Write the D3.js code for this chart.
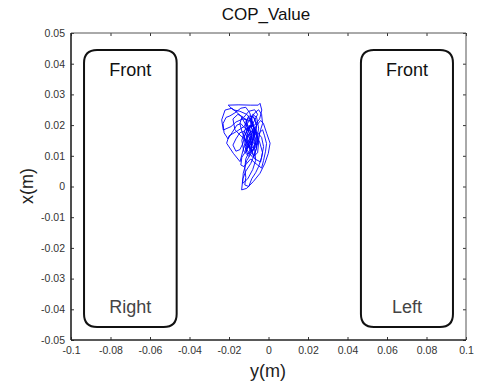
<!DOCTYPE html>
<html><head><meta charset="utf-8">
<script src="https://cdn.jsdelivr.net/npm/d3@7"></script>
<style>body{margin:0;background:#fff}svg{display:block}text{font-family:"Liberation Sans",Arial,sans-serif}</style>
</head><body>
<svg id="c" width="477" height="385"></svg>
<script>
const title = "COP_Value";
const xLabel = "y(m)";
const yLabel = "x(m)";
const xTicks = [-0.1,-0.08,-0.06,-0.04,-0.02,0,0.02,0.04,0.06,0.08,0.1];
const xTickLabels = ["-0.1","-0.08","-0.06","-0.04","-0.02","0","0.02","0.04","0.06","0.08","0.1"];
const yTicks = [-0.05,-0.04,-0.03,-0.02,-0.01,0,0.01,0.02,0.03,0.04,0.05];
const yTickLabels = ["-0.05","-0.04","-0.03","-0.02","-0.01","0","0.01","0.02","0.03","0.04","0.05"];
// foot outlines [yMin, yMax, xMin, xMax] in metres
const rightFoot = [-0.0934, -0.0465, -0.0458, 0.0445];
const leftFoot  = [0.0468, 0.0934, -0.0458, 0.0445];
const footLabels = ["Front","Right","Front","Left"];
// COP trajectory in millimetres [y, x]
const copPath = [
[-10.0,18.0],[-11.5,20.5],[-9.0,22.0],[-7.5,19.0],[-9.5,15.5],[-12.0,13.0],[-10.5,10.5],[-7.0,12.5],[-6.0,16.5],[-8.0,21.0],
[-11.0,23.5],[-14.5,24.5],[-18.0,25.0],[-20.4,26.5],[-15.0,26.6],[-9.0,26.5],[-5.2,26.5],[-4.3,27.1],[-3.4,24.9],[-4.5,22.0],
[-7.0,20.0],[-10.5,19.0],[-12.5,16.0],[-11.0,12.0],[-8.0,9.5],[-5.5,11.0],[-5.0,14.5],[-6.5,18.5],[-9.5,21.5],[-13.0,22.0],
[-16.5,21.0],[-19.0,19.5],[-22.9,18.4],[-23.7,21.7],[-22.0,24.9],[-18.5,25.5],[-14.0,23.0],[-11.0,19.5],[-9.0,16.0],[-8.5,12.0],
[-10.0,9.8],[-12.5,11.5],[-13.5,15.0],[-12.0,18.5],[-8.5,20.0],[-6.0,18.0],[-5.5,14.0],[-7.0,10.5],[-9.0,7.5],[-11.5,5.0],
[-13.0,2.5],[-13.6,-1.1],[-11.0,-0.6],[-7.7,1.6],[-4.3,4.3],[-1.8,7.6],[-0.1,10.8],[0.8,14.1],[-0.9,17.3],[-2.6,20.6],
[-4.0,21.5],[-6.5,19.5],[-8.0,17.0],[-10.0,14.0],[-11.5,11.0],[-10.0,13.5],[-8.5,16.5],[-9.5,19.0],[-11.5,21.0],[-10.0,23.0],
[-7.5,22.5],[-6.0,20.0],[-7.5,16.0],[-9.0,13.0],[-7.5,10.0],[-6.0,12.5],[-6.5,15.5],[-8.0,18.5],[-10.5,16.5],[-12.0,14.0],
[-14.4,8.1],[-17.8,10.8],[-21.2,14.1],[-20.0,16.5],[-16.0,18.0],[-12.5,19.5],[-10.0,21.0],[-8.0,23.5],[-6.0,22.5],[-5.0,19.0],
[-6.0,15.0],[-8.5,11.0],[-11.0,8.5],[-12.8,4.3],[-13.1,1.0],[-10.5,2.5],[-8.0,5.5],[-6.5,8.5],[-7.0,12.0],[-9.0,15.0],
[-11.0,17.5],[-12.0,20.0],[-10.0,22.5],[-8.0,20.5],[-7.0,17.5],[-8.5,14.5],[-10.5,12.5],[-11.5,15.5],[-10.0,18.5],[-7.5,21.0],
[-5.5,23.5],[-7.0,25.0],[-10.0,24.5],[-12.5,22.5],[-15.5,23.5],[-18.0,22.0],[-17.0,18.5],[-14.0,16.5],[-11.0,15.0],[-9.0,12.0],
[-7.0,9.0],[-4.0,8.0],[-3.0,11.0],[-4.5,14.5],[-6.5,17.0],[-9.0,18.0],[-11.0,16.0],[-10.0,13.0],[-8.0,14.5],[-7.5,18.0],
[-9.5,20.0],[-10.0,18.0],[-12.0,19.0],[-14.0,20.5],[-16.0,20.0],[-18.5,17.5],[-20.5,15.5],[-22.5,17.5],[-23.0,20.5],[-21.5,22.5],
[-19.5,23.0],[-17.0,24.0],[-14.0,25.5],[-11.5,25.8],[-9.5,24.0],[-8.5,22.0],[-9.0,20.0],[-10.5,18.5],[-12.0,16.5],[-13.0,14.0],
[-14.5,12.0],[-16.5,11.5],[-18.0,13.5],[-16.5,15.5],[-14.5,17.5],[-12.5,18.0],[-11.0,16.5],[-10.0,14.5],[-9.5,12.5],[-8.0,11.5],
[-6.5,13.0],[-5.0,16.0],[-4.0,18.5],[-3.0,20.5],[-3.5,23.5],[-5.0,25.0],[-7.0,24.0],[-8.5,22.5],[-8.0,20.0],[-7.0,18.0],
[-8.0,16.0],[-9.5,14.5],[-11.0,13.5],[-12.0,11.0],[-13.5,9.5],[-14.0,7.0],[-12.5,6.5],[-11.0,7.5],[-9.0,9.0],[-7.5,8.0],
[-5.5,7.0],[-3.5,6.0],[-2.5,8.5],[-1.5,11.5],[-1.0,14.0],[-2.0,16.5],[-3.0,18.5],[-4.5,17.5],[-5.0,15.0],[-6.0,13.5],
[-7.5,14.0],[-8.5,15.5],[-9.0,17.5],[-10.5,19.5],[-11.5,22.0],[-13.5,22.5],[-14.5,20.5],[-13.5,18.0],[-12.0,15.5],[-10.5,13.5],
[-9.0,11.5],[-7.5,12.0],[-7.0,14.5],[-7.5,17.0],[-8.5,19.0],[-9.0,21.5],[-8.0,23.0],[-6.5,21.5],[-6.0,19.0],[-7.0,16.5],
[-8.5,13.5],[-10.0,11.0],[-11.5,9.0],[-12.0,6.0],[-11.5,3.0],[-12.0,0.5],[-10.0,0.0],[-8.5,2.5],[-6.5,4.5],[-5.0,6.5],
[-3.5,9.5],[-2.5,13.0],[-3.5,16.0],[-5.5,17.5],[-8.0,17.5],[-10.0,16.5],[-9.0,14.0],[-8.0,12.5]
];

const svg = d3.select("#c");
const L = 71, R = 466, T = 33, B = 340;
const x = d3.scaleLinear().domain([-0.1, 0.1]).range([L, R]);
const y = d3.scaleLinear().domain([-0.05, 0.05]).range([B, T]);

// title & labels
svg.append("text").attr("x", 266).attr("y", 20).attr("text-anchor","middle")
  .attr("font-size", 17).attr("fill","#111").text(title);
svg.append("text").attr("x", 268).attr("y", 377).attr("text-anchor","middle")
  .attr("font-size", 18).attr("fill","#222").text(xLabel);
svg.append("text").attr("transform","translate(33,186) rotate(-90)").attr("text-anchor","middle")
  .attr("font-size", 18).attr("fill","#222").text(yLabel);

// axes
const gx = svg.append("g").attr("transform", `translate(0,${B})`)
  .call(d3.axisBottom(x).tickValues(xTicks).tickSize(-3).tickPadding(7)
    .tickFormat((d,i)=>xTickLabels[i]));
const gxt = svg.append("g").attr("transform", `translate(0,${T})`)
  .call(d3.axisTop(x).tickValues(xTicks).tickSize(-3).tickFormat(""));
const gy = svg.append("g").attr("transform", `translate(${L},0)`)
  .call(d3.axisLeft(y).tickValues(yTicks).tickSize(-3).tickPadding(6)
    .tickFormat((d,i)=>yTickLabels[i]));
const gyr = svg.append("g").attr("transform", `translate(${R},0)`)
  .call(d3.axisRight(y).tickValues(yTicks).tickSize(-3).tickFormat(""));
[gx,gxt,gy,gyr].forEach(g=>{
  g.select(".domain").remove();
  g.selectAll(".tick line").attr("stroke","#333");
  g.selectAll(".tick text").attr("font-size",10.5).attr("fill","#333")
   .attr("font-family",'"Liberation Sans",Arial,sans-serif');
});
// box
svg.append("line").attr("x1",L).attr("x2",R).attr("y1",T).attr("y2",T).attr("stroke","#555").attr("stroke-width",1);
svg.append("line").attr("x1",R).attr("x2",R).attr("y1",T).attr("y2",B).attr("stroke","#555").attr("stroke-width",1);
svg.append("line").attr("x1",L).attr("x2",R).attr("y1",B).attr("y2",B).attr("stroke","#222").attr("stroke-width",1.6);
svg.append("line").attr("x1",L).attr("x2",L).attr("y1",T).attr("y2",B).attr("stroke","#222").attr("stroke-width",1.6);

// feet
function footPath(f, r) {
  const x0 = x(f[0]), x1 = x(f[1]), y0 = y(f[3]), y1 = y(f[2]);
  const p = d3.path();
  p.moveTo(x0 + r, y0); p.lineTo(x1 - r, y0); p.quadraticCurveTo(x1, y0, x1, y0 + r);
  p.lineTo(x1, y1 - r); p.quadraticCurveTo(x1, y1, x1 - r, y1);
  p.lineTo(x0 + r, y1); p.quadraticCurveTo(x0, y1, x0, y1 - r);
  p.lineTo(x0, y0 + r); p.quadraticCurveTo(x0, y0, x0 + r, y0);
  p.closePath();
  return p.toString();
}
[rightFoot, leftFoot].forEach((f, i) => {
  svg.append("path").attr("d", footPath(f, 13)).attr("fill","none")
    .attr("stroke","#111").attr("stroke-width",2);
  const cx = x((f[0]+f[1])/2);
  svg.append("text").attr("x", cx).attr("y", 76).attr("text-anchor","middle")
    .attr("font-size",18).attr("fill","#111").text(footLabels[i*2]);
  svg.append("text").attr("x", cx).attr("y", 313).attr("text-anchor","middle")
    .attr("font-size",18).attr("fill","#444").text(footLabels[i*2+1]);
});

// COP trajectory
const line = d3.line().x(d => x(d[0]/1000)).y(d => y(d[1]/1000));
svg.append("path").datum(copPath).attr("d", line).attr("fill","none")
  .attr("stroke","#0000ff").attr("stroke-width",0.9).attr("stroke-linejoin","round");
</script>
</body></html>
